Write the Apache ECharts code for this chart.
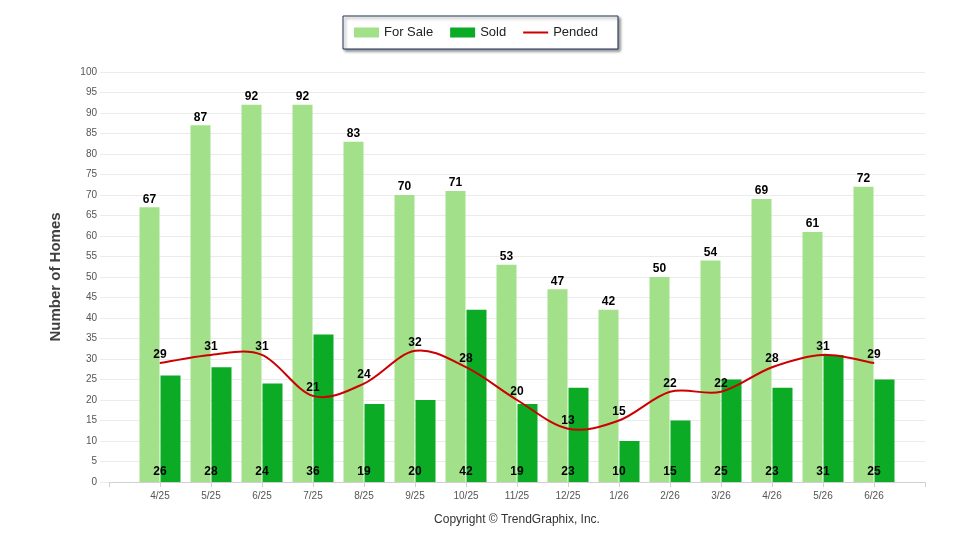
<!DOCTYPE html>
<html>
<head>
<meta charset="utf-8">
<script src="https://cdn.jsdelivr.net/npm/echarts@6/dist/echarts.min.js"></script>
<style>
  html, body { margin: 0; padding: 0; background: #fff; }
  #chart { width: 960px; height: 550px; }
</style>
</head>
<body>
<div id="chart"></div>
<script>
// months; the axis gets an empty slot at each end so ticks sit on the axis ends
const months = ['4/25', '5/25', '6/25', '7/25', '8/25', '9/25', '10/25', '11/25',
    '12/25', '1/26', '2/26', '3/26', '4/26', '5/26', '6/26'];
const forSale = [67, 87, 92, 92, 83, 70, 71, 53, 47, 42, 50, 54, 69, 61, 72];
const sold = [26, 28, 24, 36, 19, 20, 42, 19, 23, 10, 15, 25, 23, 31, 25];
const pended = [29, 31, 31, 21, 24, 32, 28, 20, 13, 15, 22, 22, 28, 31, 29];
const yTicks = { min: 0, max: 100, interval: 5 };

const FONT = '"Liberation Sans", Arial, sans-serif';
const RED = '#cc0000';
const pad = arr => ['-'].concat(arr, ['-']);

// catmull-rom spline through the pended points (echarts' own smooth flattens peaks)
function splineItem(params, api) {
    if (params.dataIndex !== 0) return null;
    const pts = pended.map((v, i) => api.coord([i + 1, v]));
    let d = 'M' + pts[0][0] + ' ' + pts[0][1];
    for (let i = 0; i < pts.length - 1; i++) {
        const p0 = pts[Math.max(i - 1, 0)];
        const p1 = pts[i];
        const p2 = pts[i + 1];
        const p3 = pts[Math.min(i + 2, pts.length - 1)];
        const c1x = p1[0] + (p2[0] - p0[0]) / 6, c1y = p1[1] + (p2[1] - p0[1]) / 6;
        const c2x = p2[0] - (p3[0] - p1[0]) / 6, c2y = p2[1] - (p3[1] - p1[1]) / 6;
        d += ' C' + c1x + ' ' + c1y + ' ' + c2x + ' ' + c2y + ' ' + p2[0] + ' ' + p2[1];
    }
    return {
        type: 'path',
        shape: { pathData: d },
        style: { fill: 'none', stroke: RED, lineWidth: 2 }
    };
}

const chart = echarts.init(document.getElementById('chart'));
chart.setOption({
    animation: false,
    textStyle: { fontFamily: FONT },
    grid: { left: 109, right: 35, top: 72, bottom: 68 },
    legend: {
        left: 343,
        top: 16,
        padding: [10, 20, 10, 11],
        itemWidth: 25,
        itemHeight: 10,
        itemGap: 17,
        backgroundColor: '#fff',
        borderColor: '#1f3658',
        borderWidth: 1,
        shadowColor: 'rgba(0,0,0,0.45)',
        shadowBlur: 3,
        shadowOffsetX: 2,
        shadowOffsetY: 2,
        textStyle: { fontSize: 13, color: '#222', fontFamily: FONT },
        data: [
            { name: 'For Sale', icon: 'rect' },
            { name: 'Sold', icon: 'rect' },
            {
                name: 'Pended',
                icon: 'path://M0,0 L0.01,0 M0,4.1 L25,4.1 L25,5.9 L0,5.9 Z M0,10 L0.01,10',
                itemStyle: { color: RED, opacity: 1 }
            }
        ]
    },
    xAxis: {
        type: 'category',
        boundaryGap: false,
        data: [''].concat(months, ['']),
        axisLine: { lineStyle: { color: '#d0d0d0', width: 1 } },
        axisTick: { length: 5, lineStyle: { color: '#d0d0d0' } },
        axisLabel: { fontSize: 10, color: '#555', margin: 9 },
        splitLine: { show: false }
    },
    yAxis: {
        type: 'value',
        min: yTicks.min,
        max: yTicks.max,
        interval: yTicks.interval,
        name: 'Number of Homes',
        nameLocation: 'middle',
        nameRotate: 90,
        nameGap: 46,
        nameTextStyle: { fontSize: 15, fontWeight: 'bold', color: '#404040' },
        axisLine: { show: false },
        axisTick: { show: true, length: 9, lineStyle: { color: '#ebebeb' } },
        axisLabel: { fontSize: 10, color: '#555', margin: 12 },
        splitLine: { lineStyle: { color: '#ebebeb' } }
    },
    series: [
        {
            name: 'For Sale',
            type: 'bar',
            data: pad(forSale),
            barWidth: 20,
            barGap: '5%',
            itemStyle: { color: '#a2e08a' },
            label: {
                show: true, position: 'top', distance: 2,
                fontSize: 12, fontWeight: 'bold', color: '#000'
            }
        },
        {
            name: 'Sold',
            type: 'bar',
            data: pad(sold),
            barWidth: 20,
            itemStyle: { color: '#0bab25' },
            label: {
                show: true, position: 'insideBottom', distance: 4,
                offset: [-10.5, 0],
                fontSize: 12, fontWeight: 'bold', color: '#000'
            }
        },
        {
            name: 'Pended curve',
            type: 'custom',
            data: pended.map((v, i) => [i + 1, v]),
            renderItem: splineItem,
            silent: true,
            z: 4
        },
        {
            name: 'Pended',
            type: 'line',
            data: pad(pended),
            symbol: 'circle',
            symbolSize: 1,
            showSymbol: true,
            lineStyle: { opacity: 0 },
            itemStyle: { color: RED },
            label: {
                show: true, position: 'top', distance: 2,
                fontSize: 12, fontWeight: 'bold', color: '#000'
            },
            z: 5
        }
    ],
    graphic: [
        {
            type: 'text',
            x: 517,
            y: 520,
            style: {
                text: 'Copyright © TrendGraphix, Inc.',
                fontSize: 12,
                fontFamily: FONT,
                fill: '#333',
                textAlign: 'center',
                textVerticalAlign: 'middle'
            }
        }
    ]
});
</script>
</body>
</html>
